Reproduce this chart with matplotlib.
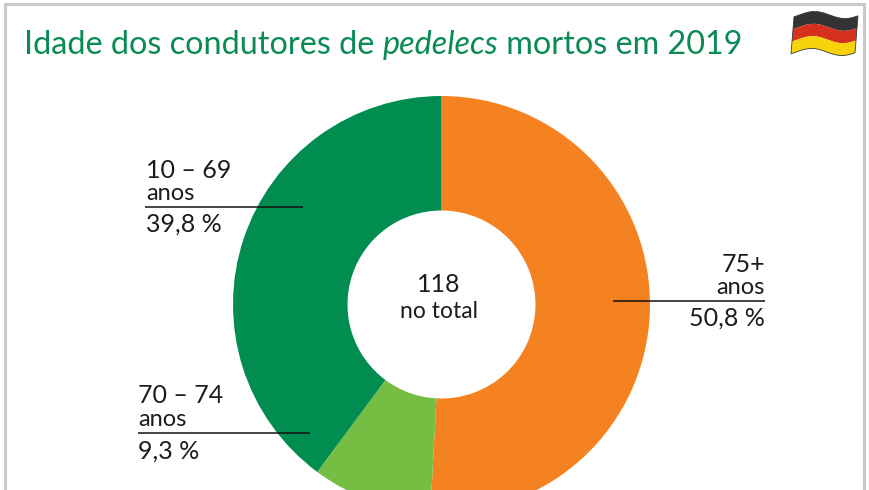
import numpy as np
import matplotlib
matplotlib.use("Agg")
import matplotlib.pyplot as plt
from matplotlib.patches import Rectangle, Polygon

categories = ["75+ anos", "70 – 74 anos", "10 – 69 anos"]
shares = [50.8, 9.3, 39.8]
share_labels = ["50,8 %", "9,3 %", "39,8 %"]
colors = ["#F58220", "#76BD43", "#008D4F"]
total_label = ["118", "no total"]
title_parts = [("Idade dos condutores de ", "normal"), ("pedelecs", "italic"), (" mortos em 2019", "normal")]

plt.rcParams['font.family'] = ['Lato', 'DejaVu Sans']
H = 490
fig = plt.figure(figsize=(8.7, 4.9), dpi=100, facecolor="white")
ax = fig.add_axes([0, 0, 1, 1])
ax.set_xlim(0, 870)
ax.set_ylim(0, H)
ax.axis("off")

def Y(y):
    return H - y

ax.add_patch(Rectangle((5, Y(500)), 859, 496, fill=False, ec="#C9C9C9", lw=2.2, zorder=1))

ax.pie(shares, colors=colors, startangle=90, counterclock=False,
       center=(441.5, Y(304.5)), radius=208.5, frame=True,
       wedgeprops=dict(width=114.5, linewidth=0))
ax.set_xlim(0, 870)
ax.set_ylim(0, H)
ax.set_aspect("auto")
ax.axis("off")

# Title
x = 24
green = "#0A8A55"
r = fig.canvas.get_renderer()
for txt, st in title_parts:
    t = ax.text(x, Y(54), txt.replace(" ", "\u00a0"), fontsize=23.3, color=green, style=st,
                ha="left", va="baseline")
    x = ax.transData.inverted().transform(t.get_window_extent(r))[1][0]

# Centre
ink = "#1c1c1c"
ax.text(439, Y(292), total_label[0], fontsize=18, ha="center", va="baseline", color=ink)
ax.text(439, Y(318), total_label[1], fontsize=16.5, ha="center", va="baseline", color=ink)

def label(x, ha, y_a, y_b, y_line, y_c, a, b, c, x0, x1):
    ax.text(x, Y(y_a), a, fontsize=18, ha=ha, va="baseline", color=ink)
    ax.text(x, Y(y_b), b, fontsize=17, ha=ha, va="baseline", color=ink)
    ax.plot([x0, x1], [Y(y_line)] * 2, color="#111111", lw=1.1, solid_capstyle="butt", zorder=5)
    ax.text(x, Y(y_c), c, fontsize=18, ha=ha, va="baseline", color=ink)

label(146, "left", 178, 200, 207.5, 232, "10 – 69", "anos", share_labels[2], 145, 303)
label(138, "left", 403, 426, 433, 459, "70 – 74", "anos", share_labels[1], 138, 310)
label(765, "right", 272, 294, 300.5, 326, "75+", "anos", share_labels[0], 613, 765)

# Flag (decoration)
xs = np.linspace(0, 1, 60)
wave = 3.5 * np.sin(xs * 2 * np.pi * 1.05 + 2.6)
def fx(u, v):
    return 791 + 3 * (1 - v) + u * 64
def fy(v, w):
    return 15 + v * 37 + w
bands = [(0, 1/3, "#333333"), (1/3, 2/3, "#D6301F"), (2/3, 1, "#F6D30A")]
for v0, v1, col in bands:
    top = [(fx(u, v0), Y(fy(v0, w))) for u, w in zip(xs, wave)]
    bot = [(fx(u, v1), Y(fy(v1, w))) for u, w in zip(xs, wave)]
    ax.add_patch(Polygon(top + bot[::-1], closed=True, fc=col, ec="none", zorder=3))
top = [(fx(u, 0), Y(fy(0, w))) for u, w in zip(xs, wave)]
bot = [(fx(u, 1), Y(fy(1, w))) for u, w in zip(xs, wave)]
ax.add_patch(Polygon(top + bot[::-1], closed=True, fill=False, ec="#3a3a3a", lw=0.6, zorder=4))

fig.savefig("out.png", dpi=100, facecolor="white")
